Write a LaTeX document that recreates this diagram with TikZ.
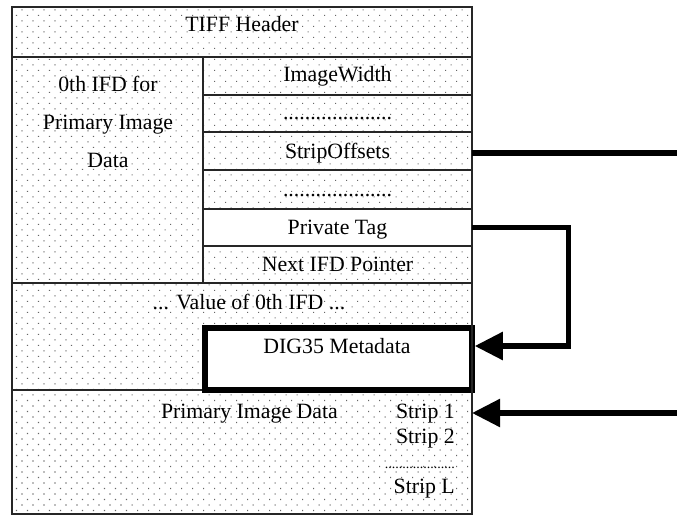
\documentclass[tikz,border=0pt]{standalone}
\usepackage{fontspec}
\setmainfont{Liberation Serif}
\usetikzlibrary{patterns.meta,arrows.meta}
\begin{document}
\begin{tikzpicture}[x=1pt,y=-1pt,
  dotfill/.style={pattern={Dots[distance=7.78pt,angle=45,radius=0.75pt]},pattern color=black!60},
  cell/.style={draw=black!85,line width=1.3pt,inner sep=0pt,outer sep=0pt,rectangle},
  dotcell/.style={cell,dotfill},
  whitecell/.style={cell,fill=white},
  lbl/.style={inner sep=0pt,anchor=base,font=\fontsize{21.8}{26}\selectfont},
  thick arrow/.style={line width=5.5pt,draw=black},
  tip/.style={-{Triangle[length=28pt,width=27pt]}}
]
\useasboundingbox (0,0) rectangle (677,516);
% cells
\node[dotcell,minimum width=460pt,minimum height=50pt] (hdr) at (242,32) {};
\node[dotcell,minimum width=191pt,minimum height=226pt] (ifd) at (107.5,170) {};
\node[dotcell,minimum width=269pt,minimum height=38pt] (iw) at (337.5,76) {};
\node[dotcell,minimum width=269pt,minimum height=37pt] (d1) at (337.5,113.5) {};
\node[dotcell,minimum width=269pt,minimum height=38pt] (so) at (337.5,151) {};
\node[dotcell,minimum width=269pt,minimum height=39pt] (d2) at (337.5,189.5) {};
\node[whitecell,minimum width=269pt,minimum height=37pt] (pt) at (337.5,227.5) {};
\node[dotcell,minimum width=269pt,minimum height=37pt] (nxt) at (337.5,264.5) {};
\node[dotcell,minimum width=460pt,minimum height=107pt] (val) at (242,336.5) {};
\node[dotcell,minimum width=460pt,minimum height=124pt] (bot) at (242,452) {};
\node[draw=black,fill=white,line width=5.5pt,inner sep=0pt,minimum width=267pt,minimum height=62pt] (dig) at (338.5,359) {};
\draw[line width=2pt,black!85] (12,7) rectangle (472,514);
% labels
\node[lbl] (thdr) at (242,32) {TIFF Header};
\node[lbl] (tifd1) at (108,92) {0th IFD for};
\node[lbl] (tifd2) at (108,129) {Primary Image};
\node[lbl] (tifd3) at (108,167) {Data};
\node[lbl] (tiw) at (337.5,82) {ImageWidth};
\node[lbl] (td1) at (337.5,120) {....................};
\node[lbl] (tso) at (337.5,158) {StripOffsets};
\node[lbl] (td2) at (337.5,196) {....................};
\node[lbl] (tpt) at (337.5,234) {Private Tag};
\node[lbl] (tnxt) at (337.5,271) {Next IFD Pointer};
\node[lbl] (tval) at (249,309) {... Value of 0th IFD ...};
\node[lbl] (tdig) at (337,353) {DIG35 Metadata};
\node[lbl,anchor=base east] (tpid) at (338,418) {Primary Image Data};
\node[lbl,anchor=base east] (s1) at (455,418) {Strip 1};
\node[lbl,anchor=base east] (s2) at (455,443) {Strip 2};
\node[lbl,anchor=base east,font=\fontsize{14}{16}\selectfont] (sd) at (455,468) {....................};
\node[lbl,anchor=base east] (sl) at (455,493) {Strip L};
% connectors
\coordinate (soend) at (677,153);
\coordinate (s1start) at (677,413);
\draw[thick arrow] ([yshift=-2pt]so.east) -- (soend);
\draw[thick arrow,tip] (pt.east) -- ++(96.5,0) |- ([yshift=13pt]dig.east);
\draw[thick arrow,tip] (s1start) -- (s1start -| bot.east);
\end{tikzpicture}
\end{document}
